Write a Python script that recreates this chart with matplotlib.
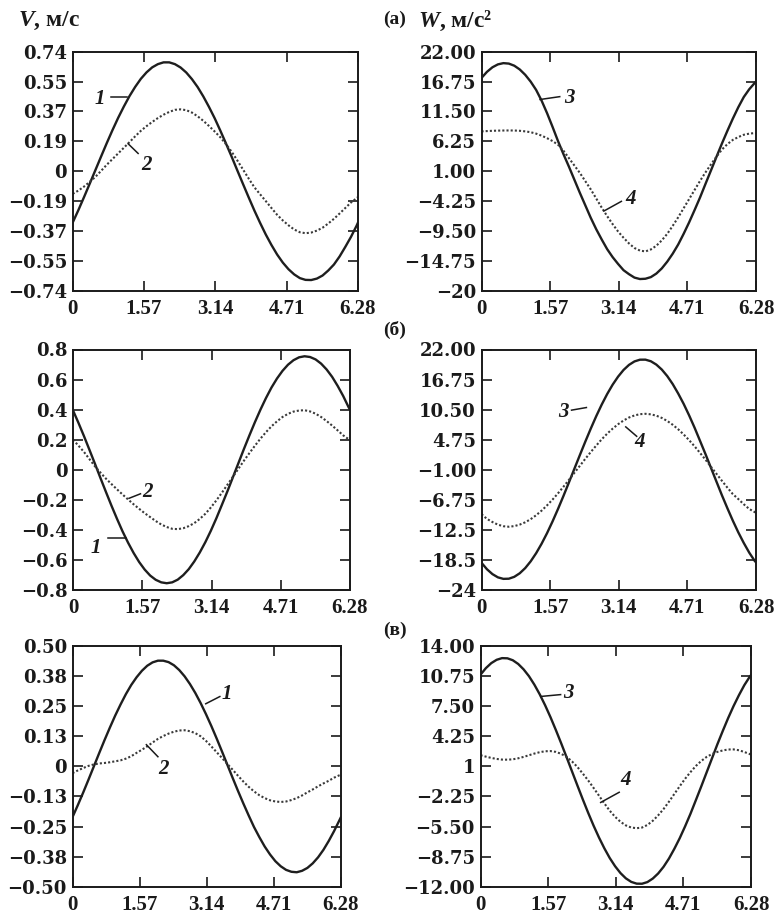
import matplotlib
matplotlib.use("Agg")
import matplotlib.pyplot as plt

plt.rcParams['font.family'] = ['Liberation Serif', 'DejaVu Serif']
plt.rcParams['font.weight'] = 'bold'
plt.rcParams['mathtext.fontset'] = 'custom'
plt.rcParams['mathtext.it'] = 'Liberation Serif:italic:bold'
plt.rcParams['mathtext.rm'] = 'Liberation Serif:bold'

# ---------------- data ----------------
X = [0, 0.125, 0.25, 0.375, 0.5, 0.625, 0.75, 0.875, 1.0, 1.125, 1.25, 1.375, 1.5,
     1.625, 1.75, 1.875, 2.0, 2.125, 2.25, 2.375, 2.5, 2.625, 2.75, 2.875, 3.0,
     3.125, 3.25, 3.375, 3.5, 3.625, 3.75, 3.875, 4.0, 4.125, 4.25, 4.375, 4.5,
     4.625, 4.75, 4.875, 5.0, 5.125, 5.25, 5.375, 5.5, 5.625, 5.75, 5.875, 6.0,
     6.125, 6.25, 6.28]

# (а) velocity, curves 1 and 2
a_v1 = [-0.318, -0.241, -0.160, -0.077, 0.007, 0.091, 0.174, 0.254, 0.330, 0.400, 0.465, 0.522, 0.572,
        0.612, 0.643, 0.663, 0.674, 0.674, 0.663, 0.642, 0.611, 0.570, 0.521, 0.463, 0.398,
        0.328, 0.251, 0.171, 0.089, 0.004, -0.080, -0.163, -0.244, -0.320, -0.392, -0.457, -0.516,
        -0.566, -0.607, -0.639, -0.662, -0.673, -0.674, -0.665, -0.646, -0.615, -0.578, -0.528, -0.469,
        -0.407, -0.337, -0.318]
a_v2 = [-0.140, -0.120, -0.095, -0.066, -0.035, 0.002, 0.040, 0.075, 0.110, 0.145, 0.180, 0.216, 0.250,
        0.279, 0.305, 0.329, 0.350, 0.367, 0.380, 0.383, 0.378, 0.363, 0.340, 0.312, 0.280,
        0.246, 0.210, 0.167, 0.120, 0.066, 0.010, -0.046, -0.100, -0.143, -0.185, -0.228, -0.270,
        -0.305, -0.335, -0.361, -0.378, -0.384, -0.380, -0.368, -0.350, -0.324, -0.295, -0.262, -0.228,
        -0.194, -0.167, -0.160]
# (а) acceleration, curves 3 and 4
a_w3 = [17.39, 18.46, 19.26, 19.77, 19.99, 19.91, 19.54, 18.88, 17.94, 16.74, 15.28, 13.4, 11.2,
        8.8, 6.3, 4.0, 1.8, -0.5, -2.8, -5.0, -7.2, -9.2, -11.0, -12.7, -14.1,
        -15.3, -16.4, -17.1, -17.7, -17.95, -17.9, -17.61, -16.99, -16.08, -14.89, -13.49, -11.88,
        -10.0, -7.99, -5.83, -3.61, -1.22, 1.14, 3.51, 5.85, 8.09, 10.24, 12.24, 14.03,
        15.4, 16.5, 16.75]
a_w4 = [8.0, 8.05, 8.1, 8.13, 8.15, 8.16, 8.15, 8.1, 8.0, 7.85, 7.6, 7.25, 6.8,
        6.3, 5.65, 4.6, 3.3, 2.0, 0.7, -0.75, -2.2, -3.8, -5.4, -6.9, -8.3,
        -9.6, -10.7, -11.7, -12.5, -12.95, -13.1, -12.75, -12.1, -11.15, -10.0, -8.6, -7.1,
        -5.5, -3.9, -2.3, -0.7, 0.8, 2.2, 3.55, 4.8, 5.75, 6.5, 7.0, 7.4,
        7.6, 7.7, 7.7]

# (б) velocity
b_v1 = [0.395, 0.311, 0.223, 0.131, 0.038, -0.057, -0.150, -0.241, -0.328, -0.411, -0.486, -0.554, -0.614,
        -0.664, -0.704, -0.732, -0.749, -0.755, -0.749, -0.731, -0.701, -0.661, -0.610, -0.550, -0.482,
        -0.406, -0.323, -0.234, -0.144, -0.050, 0.044, 0.138, 0.229, 0.317, 0.400, 0.477, 0.547,
        0.607, 0.658, 0.699, 0.729, 0.748, 0.755, 0.750, 0.734, 0.706, 0.667, 0.618, 0.558,
        0.491, 0.415, 0.400]
b_v2 = [0.200, 0.160, 0.118, 0.070, 0.022, -0.020, -0.060, -0.096, -0.131, -0.165, -0.198, -0.230, -0.260,
        -0.289, -0.315, -0.341, -0.364, -0.381, -0.393, -0.395, -0.389, -0.375, -0.355, -0.327, -0.293,
        -0.251, -0.204, -0.153, -0.100, -0.047, 0.007, 0.060, 0.111, 0.160, 0.207, 0.250, 0.289,
        0.322, 0.351, 0.372, 0.387, 0.394, 0.396, 0.388, 0.373, 0.351, 0.324, 0.294, 0.262,
        0.229, 0.203, 0.196]
# (б) acceleration
b_w3 = [-18.80, -20.03, -20.96, -21.58, -21.87, -21.84, -21.48, -20.80, -19.81, -18.52, -16.96, -15.15, -13.12,
        -10.89, -8.51, -6.01, -3.43, -0.81, 1.80, 4.38, 6.87, 9.25, 11.46, 13.48, 15.27,
        16.81, 18.09, 19.06, 19.72, 20.05, 20.06, 19.75, 19.11, 18.16, 16.91, 15.38, 13.58,
        11.60, 9.40, 7.04, 4.52, 1.98, -0.64, -3.26, -5.87, -8.35, -10.74, -12.97, -15.00,
        -16.85, -18.43, -18.71]
b_w4 = [-9.5, -10.4, -11.0, -11.5, -11.8, -11.90, -11.78, -11.49, -11.05, -10.45, -9.70, -8.82, -7.81,
        -6.71, -5.51, -4.25, -2.94, -1.59, -0.25, 1.09, 2.39, 3.63, 4.82, 5.90, 6.86,
        7.71, 8.42, 8.99, 9.39, 9.63, 9.70, 9.60, 9.34, 8.91, 8.33, 7.60, 6.74,
        5.75, 4.66, 3.48, 2.22, 0.92, -0.43, -1.77, -3.11, -4.42, -5.66, -6.6, -7.6,
        -8.5, -9.1, -9.2]

# (в) velocity
c_v1 = [-0.211, -0.161, -0.109, -0.055, 0.0, 0.055, 0.109, 0.161, 0.211, 0.257, 0.300, 0.338, 0.370,
        0.397, 0.418, 0.432, 0.439, 0.439, 0.433, 0.420, 0.400, 0.374, 0.342, 0.305, 0.263,
        0.217, 0.168, 0.116, 0.062, 0.007, -0.048, -0.102, -0.154, -0.204, -0.252, -0.294, -0.333,
        -0.366, -0.394, -0.415, -0.430, -0.438, -0.440, -0.434, -0.422, -0.403, -0.378, -0.347, -0.310,
        -0.269, -0.224, -0.213]
c_v2 = [-0.028, -0.017, -0.007, 0.002, 0.008, 0.012, 0.014, 0.017, 0.021, 0.025, 0.032, 0.042, 0.056,
        0.069, 0.083, 0.099, 0.114, 0.126, 0.136, 0.144, 0.149, 0.150, 0.146, 0.138, 0.125,
        0.106, 0.083, 0.059, 0.035, 0.010, -0.014, -0.039, -0.063, -0.085, -0.104, -0.120, -0.132,
        -0.141, -0.146, -0.148, -0.146, -0.140, -0.132, -0.121, -0.108, -0.096, -0.083, -0.071, -0.060,
        -0.047, -0.037, -0.035]
# (в) acceleration
c_w3 = [10.90, 11.61, 12.15, 12.51, 12.69, 12.67, 12.46, 12.06, 11.48, 10.74, 9.83, 8.78, 7.60,
        6.31, 4.92, 3.47, 1.97, 0.45, -1.07, -2.57, -4.02, -5.40, -6.68, -7.85, -8.90,
        -9.79, -10.53, -11.10, -11.48, -11.67, -11.68, -11.50, -11.12, -10.57, -9.85, -8.96, -7.91,
        -6.76, -5.48, -4.12, -2.65, -1.17, 0.35, 1.87, 3.39, 4.83, 6.22, 7.51, 8.69,
        9.77, 10.68, 10.85]
c_w4 = [2.20, 2.05, 1.91, 1.80, 1.73, 1.72, 1.76, 1.87, 2.02, 2.20, 2.38, 2.53, 2.63,
        2.65, 2.56, 2.35, 2.02, 1.53, 0.93, 0.22, -0.52, -1.33, -2.16, -3.00, -3.79,
        -4.45, -4.99, -5.38, -5.61, -5.68, -5.61, -5.33, -4.88, -4.29, -3.61, -2.82, -1.98,
        -1.15, -0.34, 0.38, 1.04, 1.58, 2.02, 2.33, 2.56, 2.72, 2.82, 2.83, 2.74,
        2.55, 2.33, 2.27]

# ticks
x_ticks = [0, 1.57, 3.14, 4.71, 6.28]
x_labels = ["0", "1.57", "3.14", "4.71", "6.28"]

a_v_ticks = [-0.74, -0.555, -0.37, -0.185, 0, 0.185, 0.37, 0.555, 0.74]
a_v_labels = ["\u22120.74", "\u22120.55", "\u22120.37", "\u22120.19", "0", "0.19", "0.37", "0.55", "0.74"]
a_w_ticks = [-20, -14.75, -9.5, -4.25, 1.0, 6.25, 11.5, 16.75, 22.0]
a_w_labels = ["\u221220", "\u221214.75", "\u22129.50", "\u22124.25", "1.00", "6.25", "11.50", "16.75", "22.00"]
b_v_ticks = [-0.8, -0.6, -0.4, -0.2, 0, 0.2, 0.4, 0.6, 0.8]
b_v_labels = ["\u22120.8", "\u22120.6", "\u22120.4", "\u22120.2", "0", "0.2", "0.4", "0.6", "0.8"]
b_w_ticks = [-24, -18.25, -12.5, -6.75, -1.0, 4.75, 10.5, 16.25, 22.0]
b_w_labels = ["\u221224", "\u221218.5", "\u221212.5", "\u22126.75", "\u22121.00", "4.75", "10.50", "16.75", "22.00"]
c_v_ticks = [-0.5, -0.375, -0.25, -0.125, 0, 0.125, 0.25, 0.375, 0.5]
c_v_labels = ["\u22120.50", "\u22120.38", "\u22120.25", "\u22120.13", "0", "0.13", "0.25", "0.38", "0.50"]
c_w_ticks = [-12, -8.75, -5.5, -2.25, 1, 4.25, 7.5, 10.75, 14.0]
c_w_labels = ["\u221212.00", "\u22128.75", "\u22125.50", "\u22122.25", "1", "4.25", "7.50", "10.75", "14.00"]

# curve labels: (text, label_xy, leader_start, leader_end) in data coords
a_v_notes = [("1", (0.60, 0.45), (0.85, 0.46), (1.19, 0.46)),
             ("2", (1.63, 0.04), (1.44, 0.11), (1.22, 0.17))]
a_w_notes = [("3", (2.02, 13.8), (1.79, 14.1), (1.34, 13.6)),
             ("4", (3.40, -3.9), (3.20, -4.3), (2.80, -6.0))]
b_v_notes = [("2", (1.68, -0.15), (1.53, -0.16), (1.27, -0.19)),
             ("1", (0.51, -0.52), (0.80, -0.455), (1.20, -0.455))]
b_w_notes = [("3", (1.87, 10.0), (2.06, 10.4), (2.40, 10.9)),
             ("4", (3.62, 4.3), (3.55, 5.4), (3.30, 7.2))]
c_v_notes = [("1", (3.61, 0.30), (3.45, 0.29), (3.12, 0.26)),
             ("2", (2.12, -0.01), (2.00, 0.04), (1.73, 0.09))]
c_w_notes = [("3", (2.05, 8.9), (1.86, 8.75), (1.40, 8.55)),
             ("4", (3.37, -0.5), (3.22, -1.8), (2.79, -2.9))]

W, H = 776, 914

def rect(l, r, t, b):
    return [l / W, 1 - b / H, (r - l) / W, (b - t) / H]

fig = plt.figure(figsize=(W / 100, H / 100), dpi=100)

panels = [
    (rect(72.7, 358, 51.7, 290.7), a_v1, a_v2, a_v_ticks, a_v_labels, a_v_notes),
    (rect(481.5, 756, 51.7, 290.7), a_w3, a_w4, a_w_ticks, a_w_labels, a_w_notes),
    (rect(73, 350, 349.5, 590), b_v1, b_v2, b_v_ticks, b_v_labels, b_v_notes),
    (rect(481.5, 756, 349.5, 590), b_w3, b_w4, b_w_ticks, b_w_labels, b_w_notes),
    (rect(72.5, 340.7, 646, 886.7), c_v1, c_v2, c_v_ticks, c_v_labels, c_v_notes),
    (rect(480.5, 751, 646, 886.7), c_w3, c_w4, c_w_ticks, c_w_labels, c_w_notes),
]

INK = '#1a1a1a'
for pos, s1, s2, yt, yl, notes in panels:
    ax = fig.add_axes(pos)
    ax.plot(X, s1, color='#1e1e1e', lw=1.7, solid_joinstyle='round')
    ax.plot(X, s2, color='#3a3a3a', lw=1.5, linestyle=(0, (1.0, 1.0)))
    ax.set_xlim(0, 6.28)
    ax.set_ylim(yt[0], yt[-1])
    ax.set_xticks(x_ticks)
    ax.set_xticklabels(x_labels, fontsize=15, family=['Liberation Serif', 'DejaVu Serif'],
                       fontweight='bold')
    ax.set_yticks(yt)
    ax.set_yticklabels(yl, fontsize=13, family=['DejaVu Serif'], fontweight='bold')
    ax.tick_params(direction='in', length=7.5, width=1.2, top=True, right=True, colors=INK)
    ax.tick_params(axis='x', pad=6)
    ax.tick_params(axis='y', pad=4)
    for sp in ax.spines.values():
        sp.set_linewidth(1.4)
        sp.set_color(INK)
    for txt, lxy, p0, p1 in notes:
        ax.text(lxy[0], lxy[1], txt, fontsize=15, style='italic', fontweight='bold',
                ha='center', va='center', color=INK)
        ax.plot([p0[0], p1[0]], [p0[1], p1[1]], color=INK, lw=1.1)

fig.text(18 / W, 1 - 21 / H, r"$V$, м/с", fontsize=17, ha='left', va='center', color=INK)
fig.text(383 / W, 1 - 19 / H, "(а)", fontsize=14, ha='left', va='center', color=INK)
fig.text(418 / W, 1 - 21 / H, r"$W$, м/с²", fontsize=17, ha='left', va='center', color=INK)
fig.text(383 / W, 1 - 330 / H, "(б)", fontsize=14, ha='left', va='center', color=INK)
fig.text(383 / W, 1 - 630 / H, "(в)", fontsize=14, ha='left', va='center', color=INK)

fig.savefig("out.png", dpi=100, facecolor='white')
